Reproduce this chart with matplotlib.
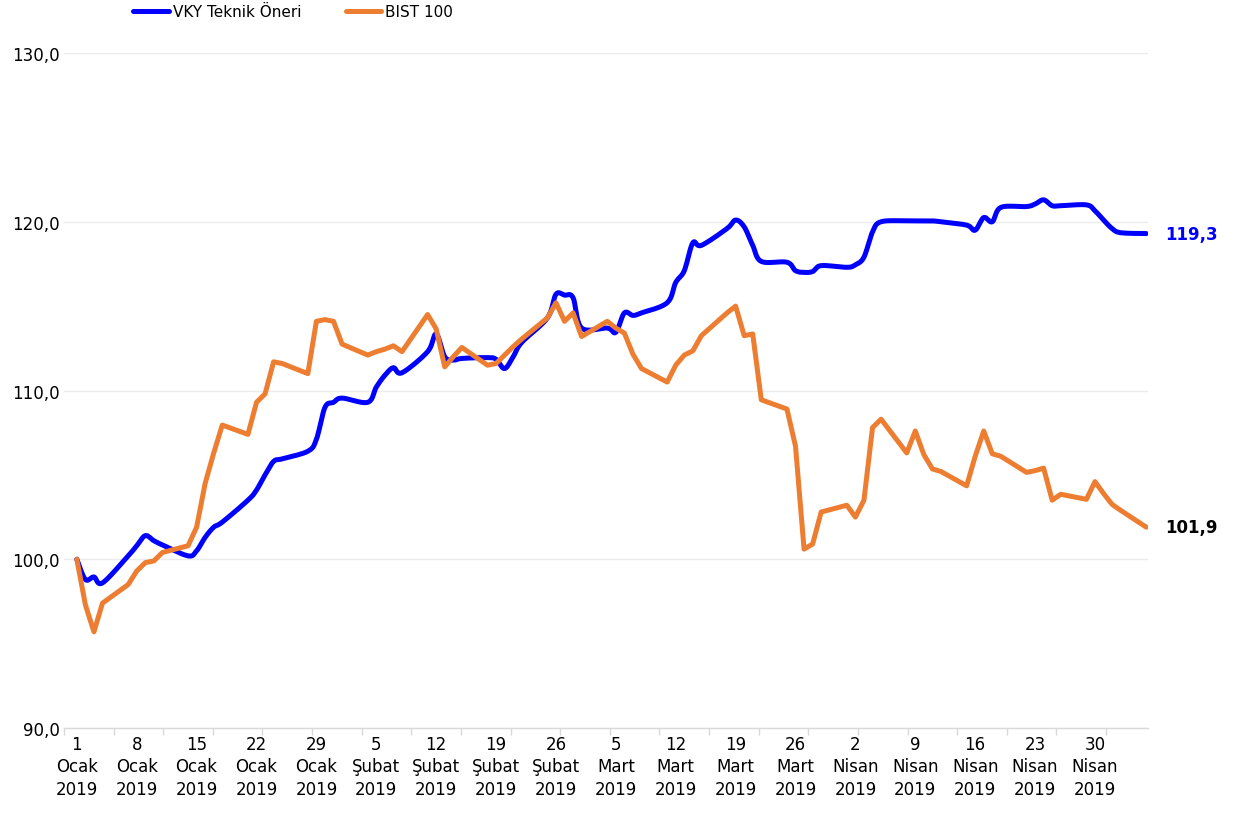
import numpy as np
import matplotlib
matplotlib.use("Agg")
import matplotlib.pyplot as plt

# gün: 1 Ocak 2019'dan itibaren takvim günü (işlem günleri)
gunler = [0, 1, 2, 3,
          6, 7, 8, 9, 10,
          13, 14, 15, 16, 17,
          20, 21, 22, 23, 24,
          27, 28, 29, 30, 31,
          34, 35, 36, 37, 38,
          41, 42, 43, 44, 45,
          48, 49, 50, 51, 52,
          55, 56, 57, 58, 59,
          62, 63, 64, 65, 66,
          69, 70, 71, 72, 73,
          76, 77, 78, 79, 80,
          83, 84, 85, 86, 87,
          90, 91, 92, 93, 94,
          97, 98, 99, 100, 101,
          104, 105, 106, 107, 108,
          111, 112, 113, 114, 115,
          118, 119, 120, 121, 122,
          125]

vky = [100.0, 98.8, 98.95, 98.6,
       100.2, 100.8, 101.4, 101.1, 100.85,
       100.2, 100.5, 101.3, 101.9, 102.2,
       103.5, 104.1, 105.0, 105.8, 105.95,
       106.4, 107.1, 109.0, 109.3, 109.55,
       109.3, 110.2, 110.9, 111.35, 111.05,
       112.3, 113.35, 112.0, 111.8, 111.9,
       111.95, 111.85, 111.3, 112.0, 112.85,
       114.3, 115.7, 115.65, 115.5, 113.7,
       113.7, 113.45, 114.6, 114.45, 114.6,
       115.2, 116.4, 117.1, 118.75, 118.6,
       119.6, 120.1, 119.7, 118.6, 117.65,
       117.6, 117.1, 117.0, 117.05, 117.4,
       117.3, 117.45, 117.9, 119.4, 120.0,
       120.05, 120.05, 120.05, 120.05, 120.0,
       119.8, 119.5, 120.25, 120.0, 120.85,
       120.9, 121.05, 121.3, 120.95, 120.95,
       121.0, 120.65, 120.1, 119.6, 119.35,
       119.3]

bist = [100.0, 97.3, 95.7, 97.4,
        98.5, 99.3, 99.8, 99.9, 100.4,
        100.8, 101.9, 104.5, 106.3, 107.95,
        107.4, 109.3, 109.8, 111.7, 111.6,
        111.0, 114.1, 114.2, 114.1, 112.75,
        112.1, 112.3, 112.45, 112.65, 112.3,
        114.5, 113.65, 111.4, 112.0, 112.55,
        111.5, 111.6, 112.1, 112.6, 113.05,
        114.3, 115.2, 114.1, 114.6, 113.2,
        114.1, 113.7, 113.4, 112.15, 111.3,
        110.5, 111.5, 112.1, 112.35, 113.25,
        114.6, 115.0, 113.25, 113.35, 109.45,
        108.9, 106.7, 100.6, 100.9, 102.8,
        103.2, 102.5, 103.5, 107.8, 108.3,
        106.3, 107.6, 106.2, 105.35, 105.2,
        104.35, 106.1, 107.6, 106.25, 106.1,
        105.15, 105.25, 105.4, 103.5, 103.85,
        103.55, 104.6, 103.9, 103.25, 102.9,
        101.9]

tick_gunler = list(range(0, 120, 7))
tick_etiket = ["1\nOcak\n2019", "8\nOcak\n2019", "15\nOcak\n2019", "22\nOcak\n2019",
               "29\nOcak\n2019", "5\nŞubat\n2019", "12\nŞubat\n2019", "19\nŞubat\n2019",
               "26\nŞubat\n2019", "5\nMart\n2019", "12\nMart\n2019", "19\nMart\n2019",
               "26\nMart\n2019", "2\nNisan\n2019", "9\nNisan\n2019", "16\nNisan\n2019",
               "23\nNisan\n2019", "30\nNisan\n2019"]


def smooth(x, y, n=10):
    # excel benzeri bezier yumusatma
    x = np.asarray(x, float)
    y = np.asarray(y, float)
    px = np.concatenate([[x[0]], x, [x[-1]]])
    py = np.concatenate([[y[0]], y, [y[-1]]])
    t = np.linspace(0, 1, n, endpoint=False)
    xs, ys = [], []
    for i in range(len(x) - 1):
        x0, x1, x2, x3 = px[i:i + 4]
        y0, y1, y2, y3 = py[i:i + 4]
        cx1, cy1 = x1 + (x2 - x0) / 6, y1 + (y2 - y0) / 6
        cx2, cy2 = x2 - (x3 - x1) / 6, y2 - (y3 - y1) / 6
        a, b, c, d = (1 - t) ** 3, 3 * (1 - t) ** 2 * t, 3 * (1 - t) * t ** 2, t ** 3
        xs.append(a * x1 + b * cx1 + c * cx2 + d * x2)
        ys.append(a * y1 + b * cy1 + c * cy2 + d * y2)
    xs.append([x[-1]])
    ys.append([y[-1]])
    return np.concatenate(xs), np.concatenate(ys)


plt.rcParams['font.family'] = ['DejaVu Sans']

fig = plt.figure(figsize=(12.36, 8.28), dpi=100)
ax = fig.add_axes([64 / 1236, 1 - 729 / 828, (1148 - 64) / 1236, 675 / 828])

sx, sy = smooth(gunler, vky)
ax.plot(sx, sy, color='#0000FF', lw=3.6, solid_capstyle='round',
        solid_joinstyle='round', label='VKY Teknik Öneri')
ax.plot(gunler, bist, color='#ED7D31', lw=3.6, solid_capstyle='round',
        solid_joinstyle='round', label='BIST 100')

ax.set_xlim(-1.5, 125.2)
ax.set_ylim(90, 130)
ax.set_yticks([90, 100, 110, 120, 130])
ax.set_yticklabels(['90,0', '100,0', '110,0', '120,0', '130,0'])
ax.set_xticks(tick_gunler)
ax.set_xticklabels(tick_etiket)
for lbl in ax.get_xticklabels():
    lbl.set_linespacing(1.32)
ax.set_xticks(np.arange(-1.5, 126, 5.8), minor=True)
ax.tick_params(axis='x', which='major', length=0, pad=5, labelsize=12)
ax.tick_params(axis='x', which='minor', length=5, color='#D9D9D9', width=1)
ax.tick_params(axis='y', length=0, pad=3, labelsize=12)

ax.grid(axis='y', color='#EBEBEB', lw=1)
ax.set_axisbelow(True)
for s in ['left', 'right', 'top']:
    ax.spines[s].set_visible(False)
ax.spines['bottom'].set_color('#D9D9D9')
ax.spines['bottom'].set_linewidth(1)

ax.annotate('119,3', xy=(gunler[-1], vky[-1]), xytext=(19, 0),
            textcoords='offset pixels', va='center', ha='left',
            fontsize=12, fontweight='bold', color='#0000FF', annotation_clip=False)
ax.annotate('101,9', xy=(gunler[-1], bist[-1]), xytext=(19, 0),
            textcoords='offset pixels', va='center', ha='left',
            fontsize=12, fontweight='bold', color='black', annotation_clip=False)

fig.legend(loc='center left', bbox_to_anchor=(133 / 1236, 1 - 12.5 / 828), ncol=2,
           frameon=False, fontsize=11, handlelength=2.35, handletextpad=0.25,
           columnspacing=2.9, borderpad=0, borderaxespad=0)

fig.savefig('out.png', dpi=100)
